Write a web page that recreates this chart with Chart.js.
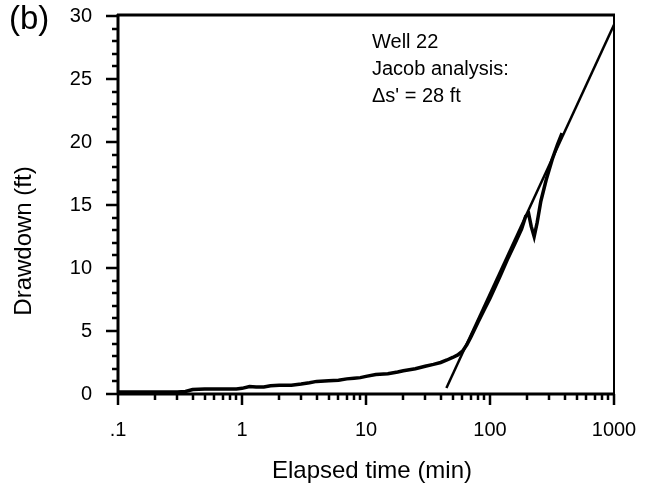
<!DOCTYPE html>
<html>
<head>
<meta charset="utf-8">
<script src="https://cdn.jsdelivr.net/npm/chart.js@4.4.1/dist/chart.umd.min.js"></script>
<style>
  html, body { margin: 0; padding: 0; background: #fff; }
  #wrap { width: 648px; height: 487px; }
</style>
</head>
<body>
<div id="wrap"><canvas id="graphDrawdown" width="648" height="487"></canvas></div>
<script>
// elapsed time (min) and drawdown (ft)
var tempsMesure = [0.1, 0.2, 0.3, 0.35, 0.4, 0.5, 0.7, 0.9, 1.0, 1.15, 1.3, 1.5, 1.7, 2, 2.5, 3, 3.5, 4, 5, 6, 7, 8, 9, 10,
  12, 15, 18, 20, 25, 30, 35, 40, 45, 50, 55, 60, 65, 70, 80, 90, 100, 120, 140, 160, 180, 194, 205, 215, 227, 240, 257, 284, 317, 350, 381];
var rabattement = [0.15, 0.15, 0.15, 0.2, 0.35, 0.4, 0.4, 0.4, 0.45, 0.6, 0.55, 0.55, 0.65, 0.7, 0.7, 0.8, 0.9, 1.0, 1.05, 1.1, 1.2, 1.25, 1.3, 1.4,
  1.55, 1.6, 1.75, 1.85, 2.0, 2.2, 2.35, 2.5, 2.7, 2.9, 3.1, 3.4, 3.9, 4.5, 5.7, 6.7, 7.6, 9.3, 10.8, 12.0, 13.1, 14.1, 14.3, 13.3, 12.5, 13.6, 15.3, 17.0, 18.6, 19.8, 20.7];

// Jacob straight line
var tempsJacob = [44.5, 1000];
var rabattementJacob = [0.48, 29.3];

var xTicksMajeurs = [0.1, 1, 10, 100, 1000];
var xLabels = ['.1', '1', '10', '100', '1000'];
var yTicks = [0, 5, 10, 15, 20, 25, 30];

var texteNote = ['Well 22', 'Jacob analysis:', '\u0394s\' = 28 ft'];

function points(xs, ys) {
  return xs.map(function (x, i) { return { x: x, y: ys[i] }; });
}

var police = '"Liberation Sans", Arial, Helvetica, sans-serif';

// border + tick marks + titles + text notes
var cadre = {
  id: 'cadre',
  afterDraw: function (chart) {
    var ctx = chart.ctx;
    var a = chart.chartArea;
    var sx = chart.scales.x, sy = chart.scales.y;
    ctx.save();
    ctx.strokeStyle = '#000';
    ctx.lineCap = 'butt';
    // frame
    ctx.lineWidth = 3;
    ctx.beginPath();
    ctx.moveTo(a.left - 1, a.top - 1); ctx.lineTo(a.right + 1, a.top - 1);
    ctx.moveTo(a.left, a.top - 2); ctx.lineTo(a.left, a.bottom + 1);
    ctx.moveTo(a.left - 1, a.bottom); ctx.lineTo(a.right + 1, a.bottom);
    ctx.stroke();
    ctx.lineWidth = 2;
    ctx.beginPath();
    ctx.moveTo(a.right, a.top - 2); ctx.lineTo(a.right, a.bottom + 1);
    ctx.stroke();

    // x ticks (log)
    ctx.lineWidth = 2.5;
    ctx.beginPath();
    for (var d = -1; d <= 3; d++) {
      for (var m = 1; m <= 9; m++) {
        var v = m * Math.pow(10, d);
        if (v > 1000.0001) break;
        var px = Math.round(sx.getPixelForValue(v));
        var len = (m === 1) ? 11 : 6;
        ctx.moveTo(px, a.bottom); ctx.lineTo(px, a.bottom + len);
      }
    }
    ctx.stroke();

    // y ticks
    ctx.beginPath();
    for (var k = 0; k <= 30; k++) {
      var py = Math.round(sy.getPixelForValue(k));
      var l = (k % 5 === 0) ? 12 : 6;
      ctx.moveTo(a.left, py); ctx.lineTo(a.left - l, py);
    }
    ctx.stroke();

    ctx.fillStyle = '#000';
    ctx.textBaseline = 'alphabetic';

    // axis titles
    ctx.font = '24px ' + police;
    ctx.textAlign = 'center';
    ctx.fillText('Elapsed time (min)', 372, 478);
    ctx.save();
    ctx.translate(31, 241);
    ctx.rotate(-Math.PI / 2);
    ctx.fillText('Drawdown (ft)', 0, 0);
    ctx.restore();

    // note
    ctx.font = '20px ' + police;
    ctx.textAlign = 'left';
    for (var i = 0; i < texteNote.length; i++) {
      ctx.fillText(texteNote[i], 372, 48 + i * 27);
    }
    ctx.font = '33px ' + police;
    ctx.fillText('(b)', 9, 29);
    ctx.restore();
  }
};

var ctxGraph = document.getElementById('graphDrawdown').getContext('2d');
var graphique = new Chart(ctxGraph, {
  type: 'line',
  data: {
    datasets: [{
      label: 'Drawdown',
      data: points(tempsMesure, rabattement),
      borderColor: '#000',
      borderWidth: 3.5,
      pointRadius: 0,
      tension: 0,
      fill: false
    }, {
      label: 'Jacob',
      data: points(tempsJacob, rabattementJacob),
      borderColor: '#000',
      borderWidth: 2.5,
      pointRadius: 0,
      fill: false
    }]
  },
  options: {
    responsive: false,
    animation: false,
    layout: { padding: { top: 16, right: 34, left: 0, bottom: 0 } },
    plugins: { legend: { display: false }, tooltip: { enabled: false } },
    scales: {
      x: {
        type: 'logarithmic',
        min: 0.1,
        max: 1000,
        afterBuildTicks: function (scale) {
          scale.ticks = xTicksMajeurs.map(function (v) { return { value: v }; });
        },
        afterFit: function (scale) { scale.height = 93; },
        grid: { display: true, drawOnChartArea: false, drawTicks: true, tickLength: 22, tickColor: 'rgba(0,0,0,0)' },
        border: { display: false },
        ticks: {
          autoSkip: false,
          maxRotation: 0,
          padding: 2,
          color: '#000',
          font: { family: police, size: 20 },
          callback: function (v) {
            var i = xTicksMajeurs.indexOf(v);
            return i >= 0 ? xLabels[i] : '';
          }
        }
      },
      y: {
        type: 'linear',
        min: 0,
        max: 30,
        afterBuildTicks: function (scale) {
          scale.ticks = yTicks.map(function (v) { return { value: v }; });
        },
        afterFit: function (scale) { scale.width = 118; },
        grid: { display: true, drawOnChartArea: false, drawTicks: true, tickLength: 24, tickColor: 'rgba(0,0,0,0)' },
        border: { display: false },
        ticks: {
          padding: 2,
          color: '#000',
          font: { family: police, size: 20 }
        }
      }
    }
  },
  plugins: [cadre]
});
</script>
</body>
</html>
